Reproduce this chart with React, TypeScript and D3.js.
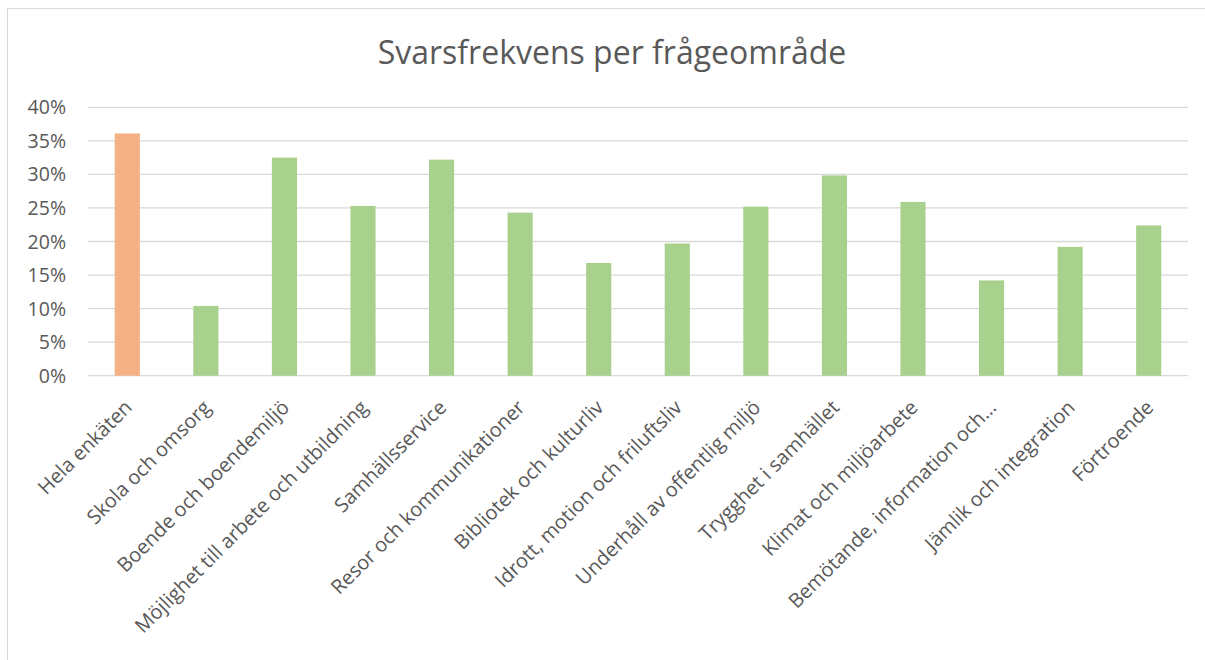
import React from 'react'
import * as d3 from 'd3'

const categories = [
  'Hela enkäten',
  'Skola och omsorg',
  'Boende och boendemiljö',
  'Möjlighet till arbete och utbildning',
  'Samhällsservice',
  'Resor och kommunikationer',
  'Bibliotek och kulturliv',
  'Idrott, motion och friluftsliv',
  'Underhåll av offentlig miljö',
  'Trygghet i samhället',
  'Klimat och miljöarbete',
  'Bemötande, information och…',
  'Jämlik och integration',
  'Förtroende',
]
const rates = [36.1, 10.4, 32.5, 25.3, 32.2, 24.3, 16.8, 19.7, 25.2, 29.85, 25.9, 14.2, 19.2, 22.4]
const yTicks = [0, 5, 10, 15, 20, 25, 30, 35, 40]

export default function App() {
  const width = 1205
  const height = 660
  const plot = { left: 88, right: 1188, top: 107.3, bottom: 375.7 }

  // one band per category, bar is about a third of the band
  const x = d3.scaleBand<string>().domain(categories).range([plot.left, plot.right]).padding(0)
  const y = d3.scaleLinear().domain([0, 40]).range([plot.bottom, plot.top])
  const barW = x.bandwidth() * 0.32
  const font = '"Open Sans", "Noto Sans", sans-serif'

  return (
    <div style={{ position: 'absolute', left: 0, top: 0 }}>
      <svg width={width} height={height} style={{ display: 'block', background: '#fff' }}>
        <rect x={7.5} y={8.5} width={width} height={height} fill="#fff" stroke="#d9d9d9" />
        <text x={612} y={64} textAnchor="middle" fontFamily={font} fontSize={32} fill="#595959">
          Svarsfrekvens per frågeområde
        </text>

        {yTicks.map(t => (
          <g key={t}>
            <line x1={plot.left} x2={plot.right} y1={y(t)} y2={y(t)} stroke="#d9d9d9" strokeWidth={1.3} />
            <text x={66} y={y(t)} dy="0.36em" textAnchor="end" fontFamily={font} fontSize={19.5} fill="#595959">
              {t}%
            </text>
          </g>
        ))}

        {categories.map((c, i) => (
          <rect
            key={c}
            x={x(c)! + x.bandwidth() / 2 - barW / 2}
            y={y(rates[i])}
            width={barW}
            height={y(0) - y(rates[i])}
            fill={i === 0 ? '#f4b183' : '#a9d18e'}
          />
        ))}

        {categories.map(c => {
          const cx = x(c)! + x.bandwidth() / 2 + 6
          const cy = plot.bottom + 33
          return (
            <text
              key={c}
              transform={`translate(${cx},${cy}) rotate(-45)`}
              textAnchor="end"
              fontFamily={font}
              fontSize={20}
              fill="#595959"
            >
              {c}
            </text>
          )
        })}
      </svg>
    </div>
  )
}
